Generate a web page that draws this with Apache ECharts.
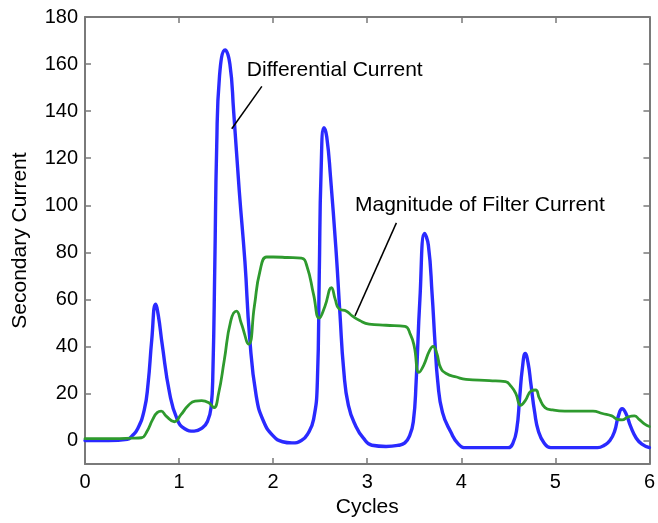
<!DOCTYPE html>
<html><head><meta charset="utf-8">
<script src="https://cdn.jsdelivr.net/npm/echarts@6/dist/echarts.min.js"></script>
<style>html,body{margin:0;padding:0;background:#fff}#c{width:658px;height:523px}</style>
</head><body><div id="c"></div>
<script>
// tick labels
const xTickValues = [0, 1, 2, 3, 4, 5, 6];
const yTickValues = [0, 20, 40, 60, 80, 100, 120, 140, 160, 180];

// Differential Current [cycles, current]
const differentialCurrent = [
  [0,0],[0.25,0],[0.45,0.5],[0.5,2],[0.56,5],[0.63,13],[0.67,24],[0.71,43],[0.75,58],[0.78,53],[0.82,41],[0.9,20],[0.98,9],[1.06,5],[1.16,4],[1.25,5.5],[1.3,8],[1.34,14],[1.36,30],[1.38,75],[1.4,125],[1.43,155],[1.49,166],[1.54,160],[1.58,140],[1.64,106],[1.7,76],[1.75,44],[1.82,19],[1.9,8],[2.0,2],[2.1,-0.5],[2.2,-1],[2.3,0],[2.37,3],[2.43,9],[2.47,25],[2.49,70],[2.51,115],[2.54,133],[2.57,129],[2.61,112],[2.67,80],[2.71,54],[2.75,30],[2.8,15],[2.88,6],[2.96,1],[3.05,-2],[3.2,-2.5],[3.33,-2],[3.4,-1],[3.45,2],[3.49,8],[3.52,25],[3.56,60],[3.61,88],[3.65,83],[3.69,62],[3.72,42],[3.75,25],[3.8,12],[3.89,3.5],[3.97,-1.5],[4.05,-3],[4.3,-3],[4.5,-3],[4.55,-1],[4.59,5],[4.62,18],[4.65,31],[4.68,37],[4.71,33],[4.74,24],[4.78,12],[4.82,4],[4.88,-1],[4.95,-3],[5.2,-3],[5.45,-3],[5.52,-2],[5.58,0],[5.63,4],[5.67,10.5],[5.71,13.5],[5.75,11.5],[5.8,6],[5.86,1],[5.92,-1.5],[6,-3]
];

// Magnitude of Filter Current [cycles, current]
const filterCurrent = [
  [0,0.8],[0.3,0.8],[0.5,1],[0.6,1.2],[0.66,4],[0.72,9],[0.77,12],[0.81,12.5],[0.86,10.5],[0.95,8],[1.02,11],[1.1,15],[1.17,16.8],[1.24,17],[1.32,16],[1.37,14],[1.42,20],[1.48,34],[1.55,51],[1.61,55],[1.66,50],[1.74,41],[1.8,57],[1.86,72],[1.93,78],[2.0,78],[2.15,77.8],[2.3,77.5],[2.36,74],[2.43,62],[2.49,52],[2.55,57],[2.62,65],[2.66,60],[2.7,56],[2.78,55],[2.84,53],[2.92,51],[3.02,49.5],[3.2,49],[3.4,48.5],[3.46,45],[3.5,40],[3.55,29],[3.6,32],[3.66,38],[3.7,40],[3.74,37],[3.78,31],[3.84,28.5],[3.95,27],[4.05,26],[4.3,25.5],[4.47,25],[4.53,23],[4.58,20],[4.63,15],[4.68,17],[4.74,21],[4.79,21.5],[4.83,18],[4.89,14],[4.97,13],[5.1,12.5],[5.4,12.5],[5.5,11.5],[5.6,10.5],[5.66,9],[5.71,8.8],[5.77,10],[5.84,10.5],[5.89,9],[5.95,7],[6,6]
];

// annotation anchors in data coordinates
const annoDiffText = [1.72, 157.5];
const annoDiffLine = [[1.88, 150.5], [1.56, 132.5]];
const annoFiltText = [2.87, 100];
const annoFiltLine = [[3.31, 92.5], [2.87, 53]];

const FONT = '"Liberation Sans", Arial, sans-serif';
const FRAME = '#7a7a7a';

const chart = echarts.init(document.getElementById('c'), null, {renderer: 'canvas'});

const frameAxisCommon = {
  axisLine: {show: true, onZero: false, lineStyle: {color: FRAME, width: 2}},
  splitLine: {show: false}
};

const option = {
  animation: false,
  backgroundColor: '#fff',
  grid: {left: 85, right: 6, top: 17, bottom: 55},
  xAxis: [
    Object.assign({}, frameAxisCommon, {
      type: 'value', min: 0, max: 6, interval: 1, position: 'bottom',
      name: 'Cycles', nameLocation: 'middle', nameGap: 31,
      nameTextStyle: {fontFamily: FONT, fontSize: 21, color: '#000'},
      axisTick: {show: true, inside: true, length: 6, lineStyle: {color: FRAME, width: 1.5}},
      axisLabel: {fontFamily: FONT, fontSize: 20, color: '#000', margin: 8,
        customValues: xTickValues, formatter: v => String(v)}
    }),
    Object.assign({}, frameAxisCommon, {
      type: 'value', min: 0, max: 6, interval: 1, position: 'top',
      axisTick: {show: true, inside: true, length: 6, lineStyle: {color: FRAME, width: 1.5}},
      axisLabel: {show: false}
    })
  ],
  yAxis: [
    Object.assign({}, frameAxisCommon, {
      type: 'value', min: -10, max: 180, position: 'left',
      name: 'Secondary Current', nameLocation: 'middle', nameGap: 54,
      nameTextStyle: {fontFamily: FONT, fontSize: 21, color: '#000'},
      axisTick: {show: true, inside: true, length: 6, customValues: yTickValues, lineStyle: {color: FRAME, width: 1.5}},
      axisLabel: {fontFamily: FONT, fontSize: 20, color: '#000', margin: 7,
        customValues: yTickValues, formatter: v => String(v)}
    }),
    Object.assign({}, frameAxisCommon, {
      type: 'value', min: -10, max: 180, position: 'right',
      axisTick: {show: true, inside: true, length: 6, customValues: yTickValues, lineStyle: {color: FRAME, width: 1.5}},
      axisLabel: {show: false}
    })
  ],
  series: [
    {
      name: 'Differential Current', type: 'line', xAxisIndex: 0, yAxisIndex: 0,
      data: differentialCurrent, showSymbol: false, smooth: 0.5,
      lineStyle: {color: '#2a2aff', width: 3.4, cap: 'round', join: 'round'}, z: 2
    },
    {
      name: 'Magnitude of Filter Current', type: 'line', xAxisIndex: 0, yAxisIndex: 0,
      data: filterCurrent, showSymbol: false, smooth: 0.5,
      lineStyle: {color: '#2e9a2e', width: 2.8, cap: 'round', join: 'round'}, z: 3
    }
  ]
};
chart.setOption(option);

function P(p) { return chart.convertToPixel({seriesIndex: 0}, p); }
const dt = P(annoDiffText), dl0 = P(annoDiffLine[0]), dl1 = P(annoDiffLine[1]);
const ft = P(annoFiltText), fl0 = P(annoFiltLine[0]), fl1 = P(annoFiltLine[1]);

chart.setOption({
  graphic: [
    {type: 'text', x: dt[0], y: dt[1], z: 10,
      style: {text: 'Differential Current', font: '21px ' + FONT, fill: '#000', textVerticalAlign: 'middle', verticalAlign: 'middle'}},
    {type: 'line', z: 10, shape: {x1: dl0[0], y1: dl0[1], x2: dl1[0], y2: dl1[1]}, style: {stroke: '#000', lineWidth: 1.5}},
    {type: 'text', x: ft[0], y: ft[1], z: 10,
      style: {text: 'Magnitude of Filter Current', font: '21px ' + FONT, fill: '#000', textVerticalAlign: 'middle', verticalAlign: 'middle'}},
    {type: 'line', z: 10, shape: {x1: fl0[0], y1: fl0[1], x2: fl1[0], y2: fl1[1]}, style: {stroke: '#000', lineWidth: 1.5}}
  ]
});
</script>
</body></html>
